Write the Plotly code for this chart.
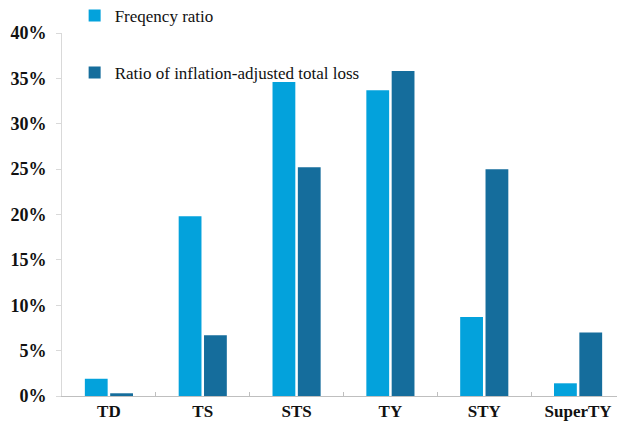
"""Grouped bar chart: frequency ratio vs. inflation-adjusted loss ratio by TC category"""
import plotly.graph_objects as go

categories = ['TD', 'TS', 'STS', 'TY', 'STY', 'SuperTY']
freq_ratio = [0.019, 0.198, 0.346, 0.337, 0.087, 0.014]
loss_ratio = [0.003, 0.067, 0.252, 0.358, 0.250, 0.070]
y_ticks = [0, 0.05, 0.10, 0.15, 0.20, 0.25, 0.30, 0.35, 0.40]
y_tick_labels = ['0%', '5%', '10%', '15%', '20%', '25%', '30%', '35%', '40%']

LIGHT = '#03a2dc'
DARK = '#156d9c'
SERIF = 'Liberation Serif'

fig = go.Figure()

fig.add_trace(go.Bar(
    x=categories,
    y=freq_ratio,
    name='Freqency ratio',
    marker=dict(color=LIGHT, line=dict(width=0)),
    legend='legend'
))

fig.add_trace(go.Bar(
    x=categories,
    y=loss_ratio,
    name='Ratio of inflation-adjusted total loss',
    marker=dict(color=DARK, line=dict(width=0)),
    legend='legend2'
))

# Legends sit in the top margin, placed in container coordinates
legend_style = dict(
    font=dict(family=SERIF, size=17, color='#111111'),
    bgcolor='rgba(0,0,0,0)',
    xref='container',
    yref='container',
    x=0.108,
    xanchor='left',
    yanchor='middle',
    itemwidth=30,
)

# the page body has an 8px margin, so the figure is 8px smaller each way
fig.update_layout(
    width=617,
    height=419,
    font=dict(family=SERIF, color='#111111'),
    barmode='group',
    bargap=0.46,
    bargroupgap=0.1,
    plot_bgcolor='white',
    paper_bgcolor='white',
    margin=dict(l=54, r=0, t=25, b=31, autoexpand=False),
    showlegend=True,
    legend=dict(legend_style, y=0.981),
    legend2=dict(legend_style, y=0.845),
)

fig.update_xaxes(
    type='category',
    automargin=False,
    showline=True,
    linecolor='#bfbfbf',
    linewidth=1,
    ticks='inside',
    ticklen=4,
    tickcolor='#bfbfbf',
    tickson='boundaries',
    showgrid=False,
    tickfont=dict(family=SERIF, size=17, color='#111111', weight='bold'),
)

fig.update_yaxes(
    range=[0, 0.4],
    automargin=False,
    tickvals=y_ticks,
    ticktext=y_tick_labels,
    showline=True,
    linecolor='#d9d9d9',
    linewidth=1,
    ticks='outside',
    ticklen=5,
    tickcolor='#d9d9d9',
    ticklabelstandoff=6,
    showgrid=False,
    zeroline=False,
    tickfont=dict(family=SERIF, size=18, color='#111111', weight='bold'),
)

fig.write_html("out.html")
